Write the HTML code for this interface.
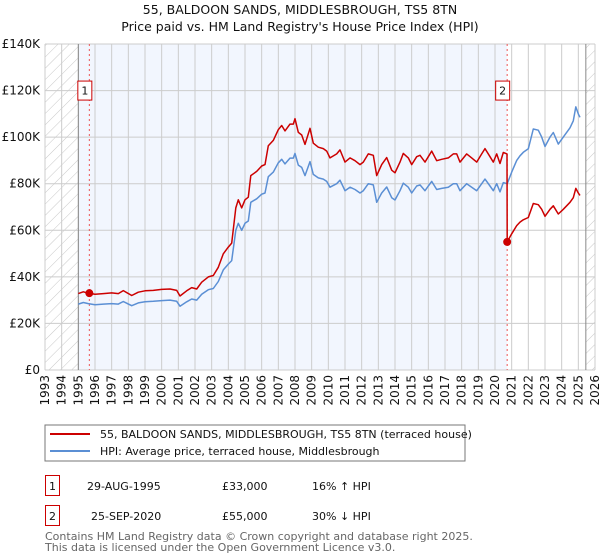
<!DOCTYPE html>
<html><head><meta charset="utf-8"><style>
body{margin:0;background:#fff;}
svg{display:block;font-family:"DejaVu Sans","Liberation Sans",sans-serif;}
</style></head><body>
<svg id="chart" width="600" height="560" viewBox="0 0 600 560">
<defs>
<pattern id="hatch" patternUnits="userSpaceOnUse" width="8" height="8" patternTransform="rotate(45)">
<line x1="0" y1="0" x2="0" y2="8" stroke="#c8c8c8" stroke-width="1"/>
</pattern>
</defs>
<text x="300" y="14" text-anchor="middle" font-size="12.5" fill="#111">55, BALDOON SANDS, MIDDLESBROUGH, TS5 8TN</text>
<text x="300" y="31" text-anchor="middle" font-size="12.5" fill="#111">Price paid vs. HM Land Registry's House Price Index (HPI)</text>
<g id="plot"></g>
<g>
<rect x="45" y="425" width="420" height="36" fill="#fff" stroke="#777" stroke-width="1"/>
<line x1="50" y1="434" x2="90" y2="434" stroke="#cc0000" stroke-width="2"/>
<text x="100" y="438" font-size="11" fill="#111">55, BALDOON SANDS, MIDDLESBROUGH, TS5 8TN (terraced house)</text>
<line x1="50" y1="451" x2="90" y2="451" stroke="#5b8fd4" stroke-width="2"/>
<text x="100" y="455" font-size="11" fill="#111">HPI: Average price, terraced house, Middlesbrough</text>
</g>
<g font-size="11" fill="#111">
<rect x="45.5" y="475.5" width="14" height="20" fill="#fff" stroke="#cc0000"/>
<text x="52.5" y="490" text-anchor="middle">1</text>
<text x="87" y="490">29-AUG-1995</text>
<text x="222" y="490">£33,000</text>
<text x="312" y="490">16% ↑ HPI</text>
<rect x="45.5" y="505.5" width="14" height="20" fill="#fff" stroke="#cc0000"/>
<text x="52.5" y="520" text-anchor="middle">2</text>
<text x="91" y="520">25-SEP-2020</text>
<text x="222" y="520">£55,000</text>
<text x="312" y="520">30% ↓ HPI</text>
</g>
<text x="45" y="540" font-size="11" fill="#666">Contains HM Land Registry data © Crown copyright and database right 2025.</text>
<text x="45" y="551" font-size="11" fill="#666">This data is licensed under the Open Government Licence v3.0.</text>
</svg>
<script>
const yTicks = [0,20,40,60,80,100,120,140];
const yTickLabels = ["£0","£20K","£40K","£60K","£80K","£100K","£120K","£140K"];
const xYears = [1993,1994,1995,1996,1997,1998,1999,2000,2001,2002,2003,2004,2005,2006,2007,2008,2009,2010,2011,2012,2013,2014,2015,2016,2017,2018,2019,2020,2021,2022,2023,2024,2025,2026];
const hpiYears = [1995.0,1995.3,1995.6,1996.0,1996.5,1997.0,1997.4,1997.7,1998.2,1998.6,1999.0,1999.5,2000.0,2000.5,2000.9,2001.1,2001.5,2001.8,2002.1,2002.4,2002.8,2003.1,2003.4,2003.7,2004.0,2004.2,2004.45,2004.6,2004.8,2005.0,2005.2,2005.35,2005.7,2006.0,2006.2,2006.4,2006.7,2007.0,2007.2,2007.4,2007.7,2007.9,2008.0,2008.2,2008.4,2008.6,2008.9,2009.1,2009.4,2009.7,2009.9,2010.1,2010.5,2010.7,2011.0,2011.3,2011.6,2011.9,2012.1,2012.4,2012.7,2012.9,2013.2,2013.5,2013.8,2014.0,2014.3,2014.5,2014.8,2015.0,2015.3,2015.5,2015.8,2016.0,2016.2,2016.5,2016.8,2017.2,2017.5,2017.7,2017.9,2018.3,2018.6,2018.9,2019.2,2019.4,2019.7,2019.9,2020.1,2020.3,2020.5,2020.73,2021.0,2021.3,2021.5,2021.7,2022.0,2022.3,2022.6,2022.8,2023.0,2023.3,2023.5,2023.8,2024.1,2024.5,2024.7,2024.85,2025.0,2025.1];
const hpiValues = [28.3,29,28.5,28,28.3,28.5,28.3,29.4,27.6,28.8,29.3,29.5,29.8,30,29.5,27.4,29.3,30.5,30,32.5,34.5,35,38,43,45.5,47,60,63,60,63,64,72,73.5,75.5,76,83,85,89,90.5,88.5,91,91,93,88,87,83.5,89.5,84,82.5,82,81,78.5,80,81.5,77,78.5,77.5,76,77,80,79.5,72,76,78.6,74,73,77,80.2,78.5,76,79,79.5,77,79,81,77.5,78,78.5,80,80,77,80,78.5,77,80,82,79,77,80,76.5,80.5,80,85,90,92,93.5,95,103.5,103,100,96,100,102,97,100,104,107,113,110,108.5];
const priceYears = [1995.0,1995.3,1995.6,1996.0,1996.5,1997.0,1997.4,1997.7,1998.2,1998.6,1999.0,1999.5,2000.0,2000.5,2000.9,2001.1,2001.5,2001.8,2002.1,2002.4,2002.8,2003.1,2003.4,2003.7,2004.0,2004.2,2004.45,2004.6,2004.8,2005.0,2005.2,2005.35,2005.7,2006.0,2006.2,2006.4,2006.7,2007.0,2007.2,2007.4,2007.7,2007.9,2008.0,2008.2,2008.4,2008.6,2008.9,2009.1,2009.4,2009.7,2009.9,2010.1,2010.5,2010.7,2011.0,2011.3,2011.6,2011.9,2012.1,2012.4,2012.7,2012.9,2013.2,2013.5,2013.8,2014.0,2014.3,2014.5,2014.8,2015.0,2015.3,2015.5,2015.8,2016.0,2016.2,2016.5,2016.8,2017.2,2017.5,2017.7,2017.9,2018.3,2018.6,2018.9,2019.2,2019.4,2019.7,2019.9,2020.1,2020.3,2020.5,2020.72,2020.73,2021.0,2021.3,2021.5,2021.7,2022.0,2022.3,2022.6,2022.8,2023.0,2023.3,2023.5,2023.8,2024.1,2024.5,2024.7,2024.85,2025.0,2025.1];
const priceValues = [32.8,33.6,33,32.5,32.8,33.1,32.8,34.1,32,33.4,34,34.2,34.6,34.8,34.2,31.8,34,35.4,34.8,37.7,40,40.6,44.1,49.9,52.8,54.5,69.6,73.1,69.6,73.1,74.2,83.5,85.3,87.6,88.2,96.3,98.6,103.2,105,102.7,105.6,105.6,107.9,102.1,100.9,96.9,103.8,97.4,95.7,95.1,94,91.1,92.8,94.5,89.3,91.1,89.9,88.2,89.3,92.8,92.2,83.5,88.2,91.2,85.8,84.7,89.3,93,91.1,88.2,91.6,92.2,89.3,91.6,94,89.9,90.5,91.1,92.8,92.8,89.3,92.8,91.1,89.3,92.8,95.1,91.6,89.3,92.8,88.7,93.4,92.8,55,58.5,62,63.5,64.5,65.5,71.5,71,69,66,69,70.5,67,69,72,74,78,76,75];
const saleYears = [1995.66,2020.73];
const saleValues = [33,55];
const saleLabels = ["1","2"];

const L=45,R=595,T=44,B=370;
const NS="http://www.w3.org/2000/svg";
const xs=y=>L+(y-1993)/(2026-1993)*(R-L);
const ys=v=>B-v/140*(B-T);
const g=document.getElementById('plot');
function mk(tag,attrs){const e=document.createElementNS(NS,tag);for(const k in attrs)e.setAttribute(k,attrs[k]);g.appendChild(e);return e;}

let e;
e=mk('rect',{x:L,y:T,width:R-L,height:B-T,fill:'#fff'});


e=mk('rect',{x:xs(1995),y:T,width:xs(saleYears[1])-xs(1995),height:B-T,fill:'#f2f6fe'});


e=mk('rect',{x:L,y:T,width:xs(1995)-L,height:B-T,fill:'url(#hatch)'});


e=mk('rect',{x:xs(2025.45),y:T,width:R-xs(2025.45),height:B-T,fill:'url(#hatch)'});



yTicks.forEach((v,i)=>{
  const l=mk('line',{x1:L,x2:R,y1:ys(v),y2:ys(v),stroke:'#cccccc','stroke-width':1});
  
  
  const t=mk('text',{x:L-5,y:ys(v)+4,'text-anchor':'end','font-size':12,fill:'#111'});
  t.textContent=yTickLabels[i];
  
  
});
xYears.forEach(yr=>{
  const l=mk('line',{x1:xs(yr),x2:xs(yr),y1:T,y2:B,stroke:'#cccccc','stroke-width':1});
  
  
  const t=mk('text',{x:0,y:0,'text-anchor':'end','font-size':12,fill:'#111',transform:`translate(${xs(yr)+4},${B+5}) rotate(-90)`});
  t.textContent=String(yr);
  
  
});
e=mk('line',{x1:xs(1995),x2:xs(1995),y1:T,y2:B,stroke:'#888','stroke-width':1});


e=mk('line',{x1:xs(2025.45),x2:xs(2025.45),y1:T,y2:B,stroke:'#888','stroke-width':1});



saleYears.forEach((yr,i)=>{
  const l=mk('line',{x1:xs(yr),x2:xs(yr),y1:T,y2:B,stroke:'#ee5555','stroke-width':1,'stroke-dasharray':'2,3'});
  
  
});

const hp=hpiYears.map((y,i)=>xs(y).toFixed(1)+','+ys(hpiValues[i]).toFixed(1)).join(' ');
e=mk('polyline',{points:hp,fill:'none',stroke:'#5b8fd4','stroke-width':1.5,'stroke-linejoin':'round'});


const pp=priceYears.map((y,i)=>xs(y).toFixed(1)+','+ys(priceValues[i]).toFixed(1)).join(' ');
e=mk('polyline',{points:pp,fill:'none',stroke:'#cc0000','stroke-width':1.5,'stroke-linejoin':'round'});



saleYears.forEach((yr,i)=>{
  const c=mk('circle',{cx:xs(yr),cy:ys(saleValues[i]),r:4,fill:'#cc0000'});
  
  
  const bx=mk('rect',{x:xs(yr)-11.5,y:ys(120)-9.5,width:14,height:19,fill:'#fff',stroke:'#cc0000','stroke-width':1});
  
  
  const t=mk('text',{x:xs(yr)-4.5,y:ys(120)+4,'text-anchor':'middle','font-size':11,fill:'#111'});
  t.textContent=saleLabels[i];
  
  
});
</script>
</body></html>
